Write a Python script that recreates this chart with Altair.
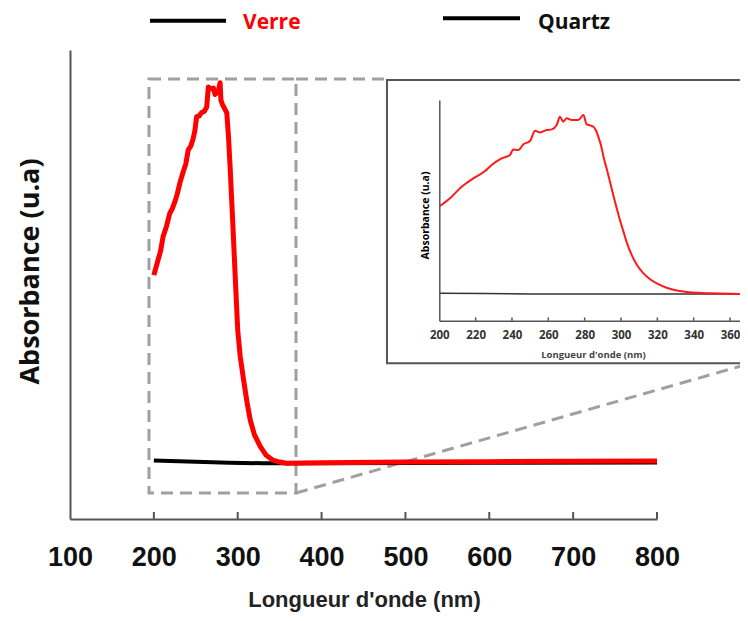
import altair as alt
import pandas as pd

# ---------------- main panel (normalised absorbance, u.a) ----------------
verre_nm = [200, 205, 208, 211, 215, 219, 222, 225, 228, 231, 235, 238, 241, 244,
            247, 249, 251, 254, 257, 260, 263, 265, 268, 271, 273, 275, 277, 279,
            280, 282, 285, 287, 289, 291, 294, 297, 300, 303, 307, 311, 315, 320,
            327, 334, 342, 350, 358, 400, 500, 600, 700, 800]
verre_abs = [0.496, 0.536, 0.560, 0.598, 0.625, 0.660, 0.672, 0.690, 0.712, 0.740,
             0.770, 0.790, 0.828, 0.838, 0.859, 0.880, 0.916, 0.918, 0.927, 0.930,
             0.942, 0.995, 0.990, 0.992, 0.975, 0.979, 0.985, 1.006, 0.960, 0.947,
             0.935, 0.926, 0.863, 0.780, 0.640, 0.493, 0.350, 0.280, 0.218, 0.160,
             0.111, 0.072, 0.041, 0.018, 0.005, 0.000, -0.003, -0.002, 0.000, 0.001,
             0.002, 0.003]
quartz_nm = [200, 230, 260, 290, 330, 400, 600, 800]
quartz_abs = [0.004, 0.002, 0.000, -0.002, -0.003, -0.003, -0.002, -0.001]

# ---------------- inset (zoom 200-370 nm) ----------------
inset_verre_nm = [200.4, 205.9, 212.3, 218.7, 225.2, 228.8, 234.3, 238.9, 240.7, 243.5,
                  246.2, 249.9, 252.7, 255.4, 259.1, 261.9, 264.6, 266.4, 268.2, 270.1,
                  272.9, 276.5, 279.3, 281.1, 283.0, 284.8, 286.3, 287.5, 289.0, 290.3,
                  292.1, 294.0, 295.8, 297.6, 299.5, 301.3, 303.1, 305.8, 308.6, 312.0,
                  316.0, 320.0, 325.1, 330.0, 336.2, 342.0, 349.0, 360.0, 370.0]
inset_verre_abs = [0.492, 0.535, 0.599, 0.646, 0.687, 0.721, 0.758, 0.777, 0.808, 0.804,
                   0.836, 0.855, 0.912, 0.903, 0.916, 0.920, 0.944, 0.991, 0.963, 0.982,
                   0.972, 0.972, 1.000, 0.948, 0.942, 0.935, 0.912, 0.879, 0.830, 0.770,
                   0.700, 0.625, 0.550, 0.480, 0.410, 0.350, 0.290, 0.220, 0.165, 0.120,
                   0.083, 0.058, 0.035, 0.021, 0.012, 0.007, 0.004, 0.001, 0.000]
inset_quartz_nm = [200, 225, 250, 300, 340, 370]
inset_quartz_abs = [0.005, 0.003, 0.000, 0.000, 0.000, 0.000]

main_ticks = [100, 200, 300, 400, 500, 600, 700, 800]
inset_ticks = [200, 220, 240, 260, 280, 300, 320, 340, 360]

series_names = ["Verre", "Quartz"]
series_colors = ["#ff0000", "#000000"]
legend_label_colors = ["#ff0000", "#111111"]

# zoom box and connector lines (main data coordinates)
zoom_x1, zoom_x2, zoom_y1, zoom_y2 = [194.2], [369.5], [1.016], [-0.082]
conn_x1 = [369.5, 369.5]
conn_y1 = [1.016, -0.082]
conn_x2 = [478.0, 908.5]
conn_y2 = [1.016, 0.26]
# inset frame (inset data coordinates)
frame_x1, frame_x2, frame_y1, frame_y2 = [171.2], [380.0], [1.196], [-0.387]

W, H = 587, 469

verre_df = pd.DataFrame({"nm": verre_nm, "abs": verre_abs, "serie": "Verre"})
quartz_df = pd.DataFrame({"nm": quartz_nm, "abs": quartz_abs, "serie": "Quartz"})
ivd = pd.DataFrame({"nm": inset_verre_nm, "abs": inset_verre_abs})
iqd = pd.DataFrame({"nm": inset_quartz_nm, "abs": inset_quartz_abs})
zoom_df = pd.DataFrame({"x1": zoom_x1, "x2": zoom_x2, "y1": zoom_y1, "y2": zoom_y2})
conn_df = pd.DataFrame({"x1": conn_x1, "x2": conn_x2, "y1": conn_y1, "y2": conn_y2})
frame_df = pd.DataFrame({"x1": frame_x1, "x2": frame_x2, "y1": frame_y1, "y2": frame_y2})
mt_df = pd.DataFrame({"nm": main_ticks[1:]})
it_df = pd.DataFrame({"nm": inset_ticks[1:]})

mx_scale = alt.Scale(domain=[100, 800], nice=False, zero=False)
my_scale = alt.Scale(domain=[-0.151, 1.093], nice=False, zero=False)
ix_scale = alt.Scale(domain=[200, 370], range=[369.3, 678.2], nice=False, zero=False)
iy_scale = alt.Scale(domain=[-0.149, 1.084], range=[270.7, 50], nice=False, zero=False)

main_x_axis = alt.Axis(
    values=main_ticks, orient="bottom", grid=False, ticks=False, tickSize=0,
    domainColor="#555555", domainWidth=2,
    labelFont="Liberation Sans", labelFontSize=27, labelFontWeight="bold", labelColor="#111111",
    labelPadding=25, labelFlush=False, labelOverlap=False,
    title="Longueur d'onde (nm)", titleFont="Liberation Sans", titleFontSize=22,
    titleFontWeight="bold", titleColor="#222222", titleX=294, titleY=87,
    titleAlign="center", titleBaseline="alphabetic")
main_y_axis = alt.Axis(
    orient="left", labels=False, ticks=False, grid=False,
    domainColor="#555555", domainWidth=2,
    title="Absorbance (u.a)", titleFont="Open Sans", titleFontSize=27,
    titleFontWeight="bold", titleColor="#111111", titleAngle=270,
    titleX=-40, titleY=221, titleAlign="center", titleBaseline="middle")

inset_x_axis = alt.Axis(
    values=inset_ticks, orient="bottom", offset=-198.3, grid=False, ticks=False, tickSize=0,
    domainColor="#555555", domainWidth=1.5, zindex=2,
    labelFont="Open Sans", labelFontSize=11.5, labelFontWeight="bold", labelColor="#333333",
    labelPadding=9, labelFlush=False, labelOverlap=False,
    title="Longueur d'onde (nm)", titleFont="Open Sans", titleFontSize=9.5,
    titleFontWeight="bold", titleColor="#444444", titleX=523, titleY=34,
    titleAlign="center", titleBaseline="middle")
inset_y_axis = alt.Axis(
    orient="left", offset=-369.3, labels=False, ticks=False, grid=False,
    domainColor="#555555", domainWidth=1.5, zindex=2,
    title="Absorbance (u.a)", titleFont="Open Sans", titleFontSize=10.5,
    titleFontWeight="bold", titleColor="#000000", titleAngle=270,
    titleX=-14, titleY=165, titleAlign="center", titleBaseline="middle")

color_enc = alt.Color("serie:N", scale=alt.Scale(domain=series_names, range=series_colors), legend=None)


def MX(field):
    return alt.X(field, type="quantitative", scale=mx_scale, axis=main_x_axis)


def MY(field):
    return alt.Y(field, type="quantitative", scale=my_scale, axis=main_y_axis)


def IX(field):
    return alt.X(field, type="quantitative", scale=ix_scale, axis=inset_x_axis)


def IY(field):
    return alt.Y(field, type="quantitative", scale=iy_scale, axis=inset_y_axis)


zoom_box = alt.Chart(zoom_df).mark_rect(
    fill="white", fillOpacity=0, stroke="#a0a0a0", strokeWidth=3, strokeDash=[12, 7]
).encode(x=MX("x1"), x2="x2", y=MY("y1"), y2="y2")

connectors = alt.Chart(conn_df).mark_rule(
    stroke="#a0a0a0", strokeWidth=3, strokeDash=[12, 7]
).encode(x=MX("x1"), x2="x2", y=MY("y1"), y2="y2")

quartz_line = alt.Chart(quartz_df).mark_line(strokeWidth=4).encode(
    x=MX("nm"), y=MY("abs"), color=color_enc)
verre_line = alt.Chart(verre_df).mark_line(strokeWidth=5, strokeJoin="round").encode(
    x=MX("nm"), y=MY("abs"), color=color_enc)

main_ticks_marks = alt.Chart(mt_df).mark_rule(color="#555555", strokeWidth=2).encode(
    x=MX("nm"), y=alt.value(H - 7), y2=alt.value(H))

main = alt.layer(zoom_box, connectors, quartz_line, verre_line, main_ticks_marks)

frame = alt.Chart(frame_df).mark_rect(
    fill="white", stroke="#555555", strokeWidth=2
).encode(x=IX("x1"), x2="x2", y=IY("y1"), y2="y2")
inset_quartz = alt.Chart(iqd).mark_line(color="#333333", strokeWidth=1.5).encode(
    x=IX("nm"), y=IY("abs"))
inset_verre = alt.Chart(ivd).mark_line(color="#ff1a1a", strokeWidth=2, interpolate="monotone").encode(
    x=IX("nm"), y=IY("abs"))
inset_ticks_marks = alt.Chart(it_df).mark_rule(color="#555555", strokeWidth=1.5).encode(
    x=IX("nm"), y=alt.value(267.5), y2=alt.value(270.7))

inset = alt.layer(frame, inset_quartz, inset_verre, inset_ticks_marks)

# legend drawn by hand (both keys black in the original figure)
leg1 = pd.DataFrame({"label": [series_names[0]]})
leg2 = pd.DataFrame({"label": [series_names[1]]})
leg_key1 = alt.Chart(leg1).mark_rule(color="#000000", strokeWidth=4).encode(
    x=alt.value(80), x2=alt.value(156), y=alt.value(-29.3))
leg_key2 = alt.Chart(leg2).mark_rule(color="#000000", strokeWidth=4).encode(
    x=alt.value(373), x2=alt.value(450), y=alt.value(-31.7))
leg_txt1 = alt.Chart(leg1).mark_text(
    align="left", baseline="middle", font="Open Sans", fontSize=21, fontWeight="bold",
    color=legend_label_colors[0]).encode(x=alt.value(173), y=alt.value(-27.3), text="label:N")
leg_txt2 = alt.Chart(leg2).mark_text(
    align="left", baseline="middle", font="Open Sans", fontSize=21, fontWeight="bold",
    color=legend_label_colors[1]).encode(x=alt.value(468), y=alt.value(-27), text="label:N")
legend = alt.layer(leg_key1, leg_key2, leg_txt1, leg_txt2)

chart = alt.layer(main, inset, legend).resolve_scale(
    x="independent", y="independent"
).properties(
    width=W, height=H,
    padding={"left": 62, "top": 42, "right": 83, "bottom": 93},
    autosize=alt.AutoSizeParams(type="none"),
    background="white",
).configure_view(stroke=None)

chart.save("out.html", embed_options={"renderer": "svg", "actions": False})
